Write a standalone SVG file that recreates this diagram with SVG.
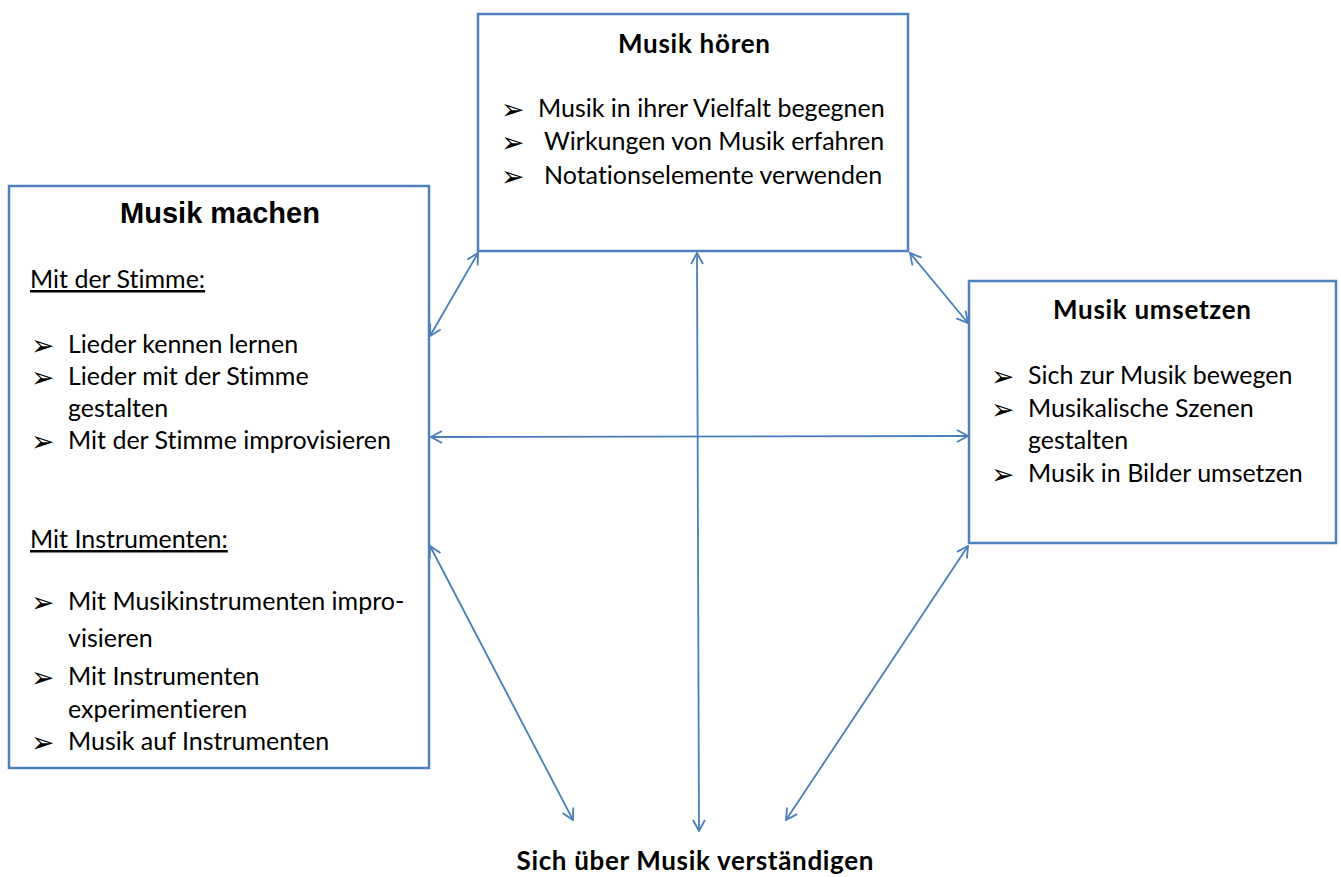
<svg xmlns="http://www.w3.org/2000/svg" width="1341" height="877" viewBox="0 0 1341 877">
<style>
.box{fill:#fff;stroke:#4F81BD;stroke-width:2.5}
.con{stroke:#4A7EBB;stroke-width:1.8;fill:none;marker-start:url(#ah);marker-end:url(#ah)}
.t{font-family:Lato,"Noto Sans",sans-serif;font-size:25px;fill:#000;font-variant-ligatures:none}
.b{font-family:"DejaVu Sans",sans-serif;font-size:28px;fill:#000}
.h{font-family:Lato,"Noto Sans",sans-serif;font-size:26px;font-weight:bold;fill:#000;text-anchor:middle;font-variant-ligatures:none}
.ha{font-family:"Liberation Sans",Arial,sans-serif;font-size:29px;font-weight:bold;fill:#000;text-anchor:middle}
.u{text-decoration:underline}
</style>
<defs>
<marker id="ah" viewBox="0 0 14 14" refX="13" refY="7" markerWidth="14" markerHeight="14" markerUnits="userSpaceOnUse" orient="auto-start-reverse">
<path d="M2,1 L13,7 L2,13" fill="none" stroke="#4A7EBB" stroke-width="1.8"/>
</marker>
</defs>
<g id="connectors">
<line class="con" x1="430" y1="336" x2="478" y2="253"/>
<line class="con" x1="697" y1="253" x2="699" y2="831"/>
<line class="con" x1="910" y1="253" x2="968" y2="323"/>
<line class="con" x1="431" y1="437" x2="968" y2="436"/>
<line class="con" x1="430" y1="546" x2="573" y2="820"/>
<line class="con" x1="968" y1="546" x2="786" y2="820"/>
</g>
<g id="musik-machen">
<rect class="box" x="9" y="186" width="420" height="582"/>
<text class="ha" x="220" y="223">Musik machen</text>
<text class="t u" x="30" y="288">Mit der Stimme:</text>
<text class="b" x="31" y="355">➢</text><text class="t" x="68" y="353">Lieder kennen lernen</text>
<text class="b" x="31" y="387">➢</text><text class="t" x="68" y="385">Lieder mit der Stimme</text>
<text class="t" x="68" y="417">gestalten</text>
<text class="b" x="31" y="451">➢</text><text class="t" x="68" y="449">Mit der Stimme improvisieren</text>
<text class="t u" x="30" y="548">Mit Instrumenten:</text>
<text class="b" x="31" y="612">➢</text><text class="t" x="68" y="610">Mit Musikinstrumenten impro-</text>
<text class="t" x="68" y="647">visieren</text>
<text class="b" x="31" y="687">➢</text><text class="t" x="68" y="685">Mit Instrumenten</text>
<text class="t" x="68" y="718">experimentieren</text>
<text class="b" x="31" y="752">➢</text><text class="t" x="68" y="750">Musik auf Instrumenten</text>
</g>
<g id="musik-hoeren">
<rect class="box" x="478" y="14" width="430" height="237"/>
<text class="h" x="694" y="53" textLength="152">Musik hören</text>
<text class="b" x="501" y="119">➢</text><text class="t" x="538" y="117">Musik in ihrer Vielfalt begegnen</text>
<text class="b" x="501" y="152">➢</text><text class="t" x="544" y="150">Wirkungen von Musik erfahren</text>
<text class="b" x="501" y="186">➢</text><text class="t" x="544" y="184">Notationselemente verwenden</text>
</g>
<g id="musik-umsetzen">
<rect class="box" x="969" y="281" width="367" height="262"/>
<text class="h" x="1152" y="319" textLength="198">Musik umsetzen</text>
<text class="b" x="991" y="386">➢</text><text class="t" x="1028" y="384">Sich zur Musik bewegen</text>
<text class="b" x="991" y="419">➢</text><text class="t" x="1028" y="417">Musikalische Szenen</text>
<text class="t" x="1028" y="449">gestalten</text>
<text class="b" x="991" y="484">➢</text><text class="t" x="1028" y="482">Musik in Bilder umsetzen</text>
</g>
<g id="verstaendigen">
<text class="h" x="695" y="870" textLength="357">Sich über Musik verständigen</text>
</g>
</svg>
